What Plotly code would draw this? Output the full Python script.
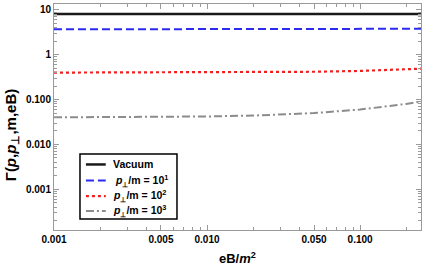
import plotly.graph_objects as go

eb = [0.001, 0.002, 0.005, 0.01, 0.02, 0.05, 0.1, 0.15, 0.2, 0.25]
vacuum = [8.15, 8.15, 8.15, 8.15, 8.15, 8.15, 8.15, 8.15, 8.15, 8.15]
p1e1 = [3.70, 3.70, 3.70, 3.70, 3.71, 3.72, 3.74, 3.76, 3.78, 3.80]
p1e2 = [0.400, 0.401, 0.402, 0.404, 0.407, 0.418, 0.436, 0.454, 0.472, 0.490]
p1e3 = [0.0402, 0.0404, 0.0410, 0.0420, 0.0440, 0.0500, 0.0600, 0.0700, 0.0800, 0.0900]

names = ["<b>Vacuum</b>",
         "<b> <i>p</i><sub>⊥</sub>/m = 10<sup>1</sup></b>",
         "<b><i>p</i><sub>⊥</sub>/m = 10<sup>2</sup></b>",
         "<b><i>p</i><sub>⊥</sub>/m = 10<sup>3</sup></b>"]
series = [vacuum, p1e1, p1e2, p1e3]
colors = ["#1a1a1a", "#2b2bf0", "#f02020", "#8c8c8c"]
dashes = ["solid", "8px,4px", "3px,3px", "8px,3px,2px,3px"]
widths = [2.5, 2, 2.2, 2]

xtickvals = [0.001, 0.005, 0.01, 0.05, 0.1]
xticktext = ["<b>0.001</b>", "<b>0.005</b>", "<b>0.010</b>", "<b>0.050</b>", "<b>0.100</b>"]
ytickvals = [0.001, 0.01, 0.1, 1, 10]
yticktext = ["<b>0.001</b>", "<b>0.010</b>", "<b>0.100</b>", "<b>1</b>", "<b>10</b>"]

xminor = [m * d for d in [0.001, 0.01, 0.1] for m in range(2, 10) if m * d <= 0.25 and m != 5]
yminor = [m * d for d in [0.0001, 0.001, 0.01, 0.1, 1, 10] for m in range(2, 10) if m * d <= 13]

XR = [-3, -0.602]
YR = [-3.91, 1.133]
GRAY = "#9a9a9a"

fig = go.Figure()
for s, n, c, d, w in zip(series, names, colors, dashes, widths):
    fig.add_trace(go.Scatter(x=eb, y=s, mode="lines", name=n, showlegend=False,
                             line=dict(color=c, dash=d, width=w)))

fig.add_trace(go.Scatter(x=[eb[0]], y=[vacuum[0]], xaxis="x2", yaxis="y2",
                         mode="markers", marker=dict(opacity=0), showlegend=False,
                         hoverinfo="skip"))

axis_common = dict(showgrid=False, zeroline=False, showline=True, linecolor=GRAY,
                   linewidth=1, mirror="allticks", ticks="inside", ticklen=5,
                   tickcolor=GRAY, tickfont=dict(size=10, color="black"), automargin=False)

# manual legend (paper coordinates of the plot area)
LX0, LX1, LY0, LY1 = 0.0708, 0.3351, 0.0487, 0.3363
fig.add_shape(type="rect", xref="paper", yref="paper", x0=LX0, x1=LX1, y0=LY0, y1=LY1,
              line=dict(color="black", width=1.5), fillcolor="white", layer="above")
row_y = [0.290, 0.219, 0.150, 0.084]
text_x = [0.155, 0.155, 0.155, 0.155]
for i, (n, c, d, w) in enumerate(zip(names, colors, dashes, widths)):
    fig.add_shape(type="line", xref="paper", yref="paper", x0=0.087, x1=0.141,
                  y0=row_y[i], y1=row_y[i], line=dict(color=c, dash=d, width=w), layer="above")
    fig.add_annotation(xref="paper", yref="paper", x=text_x[i], y=row_y[i], text=n,
                       showarrow=False, xanchor="left", yanchor="middle",
                       font=dict(size=10.5, color="black"))

fig.add_annotation(xref="paper", yref="paper", x=-0.117, y=0.42, textangle=-90,
                   text="<b>Γ(<i>p</i>,<i>p</i><sub>⊥</sub>,m,eB)</b>", showarrow=False,
                   xanchor="center", yanchor="middle", font=dict(size=15, color="black"))
fig.add_annotation(xref="paper", yref="paper", x=0.5, y=-0.126,
                   text="<b>eB/<i>m</i><sup>2</sup></b>", showarrow=False,
                   xanchor="center", yanchor="middle", font=dict(size=13, color="black"))

fig.update_layout(
    width=425, height=271,
    margin=dict(l=54, r=4, t=4, b=41),
    paper_bgcolor="white", plot_bgcolor="white",
    font=dict(family="Liberation Sans, Arial, sans-serif", color="black"),
    xaxis=dict(type="log", range=XR, tickvals=xtickvals, ticktext=xticktext, **axis_common),
    yaxis=dict(type="log", range=YR, tickvals=ytickvals, ticktext=yticktext, **axis_common),
    xaxis2=dict(type="log", range=XR, overlaying="x", tickvals=xminor, showticklabels=False,
                ticks="inside", ticklen=3, tickcolor=GRAY, mirror="allticks", showline=False,
                showgrid=False, zeroline=False, automargin=False),
    yaxis2=dict(type="log", range=YR, overlaying="y", tickvals=yminor, showticklabels=False,
                ticks="inside", ticklen=3, tickcolor=GRAY, mirror="allticks", showline=False,
                showgrid=False, zeroline=False, automargin=False),
    showlegend=False,
)
fig.write_html("out.html", config={"displayModeBar": False, "staticPlot": True},
               post_script="document.body.style.margin='0';")
